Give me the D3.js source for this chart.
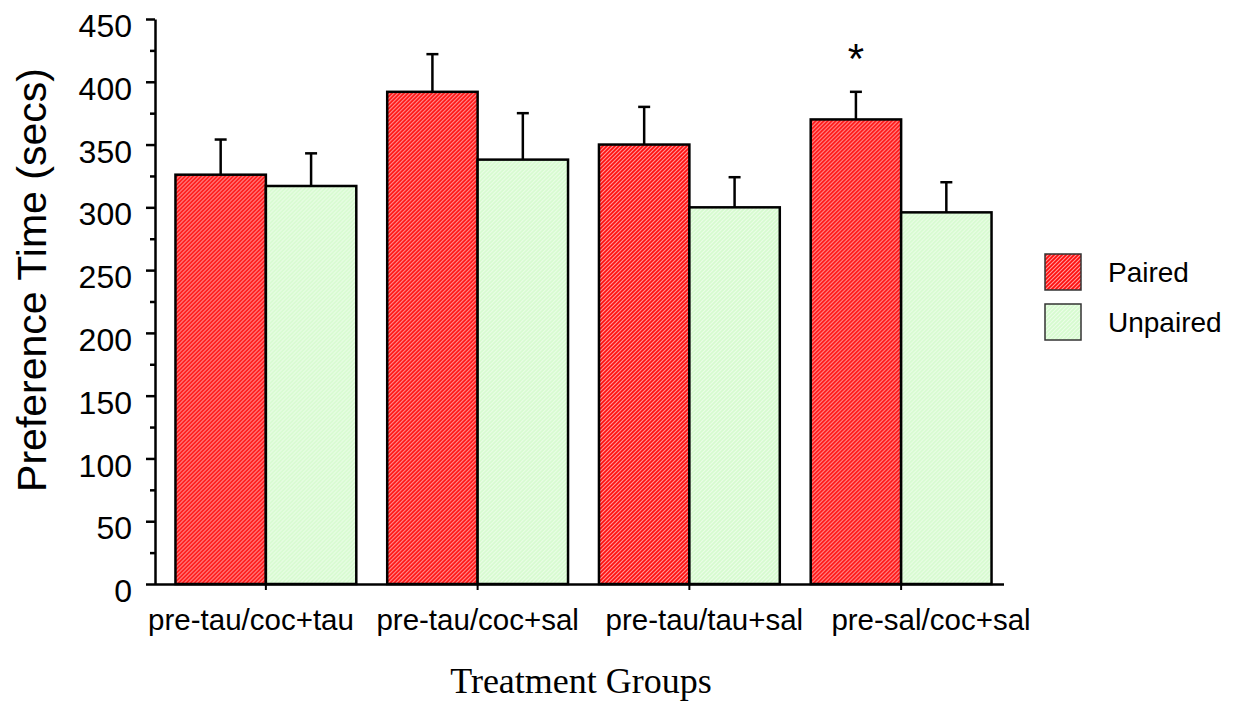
<!DOCTYPE html>
<html>
<head>
<meta charset="utf-8">
<script src="https://cdn.jsdelivr.net/npm/d3@7"></script>
<style>
  body { margin: 0; background: #fff; }
  text { font-family: "Liberation Sans", Arial, sans-serif; fill: #000; }
</style>
</head>
<body>
<svg width="1236" height="702"></svg>
<script>
// data
const groups = ["pre-tau/coc+tau", "pre-tau/coc+sal", "pre-tau/tau+sal", "pre-sal/coc+sal"];
const series = ["Paired", "Unpaired"];
const paired = [326, 392, 350, 370];
const pairedErr = [28, 30, 30, 22];
const unpaired = [317, 338, 300, 296];
const unpairedErr = [26, 37, 24, 24];
const yTicks = [0, 50, 100, 150, 200, 250, 300, 350, 400, 450];
const starred = ["pre-sal/coc+sal"]; // paired bar marked *

const svg = d3.select("svg");
const axisX = 155, baseY = 584, topY = 19;

// patterns for the two fills
const defs = svg.append("defs");
const red = defs.append("pattern")
  .attr("id", "hatch-red")
  .attr("patternUnits", "userSpaceOnUse")
  .attr("width", 4).attr("height", 4);
red.append("rect").attr("width", 4).attr("height", 4).attr("fill", "#ff0d0d");
red.append("path")
  .attr("d", "M-1,1 l2,-2 M0,4 l4,-4 M3,5 l2,-2")
  .attr("stroke", "#ff9c9c").attr("stroke-width", 1.1);

const green = defs.append("pattern")
  .attr("id", "hatch-green")
  .attr("patternUnits", "userSpaceOnUse")
  .attr("width", 4).attr("height", 4);
green.append("rect").attr("width", 4).attr("height", 4).attr("fill", "#d6fbcf");
green.append("path")
  .attr("d", "M-1,1 l2,-2 M0,4 l4,-4 M3,5 l2,-2")
  .attr("stroke", "#ecfee8").attr("stroke-width", 1.2);

const fills = { Paired: "url(#hatch-red)", Unpaired: "url(#hatch-green)" };

// scales
const y = d3.scaleLinear().domain([0, 450]).range([baseY, topY]);
const x0 = d3.scaleBand().domain(groups).range([160, 1007])
  .paddingInner(0.146).paddingOuter(0.073);
const x1 = d3.scaleBand().domain(series).range([0, x0.bandwidth()]);
const labelX = d3.scalePoint().domain(groups).range([251, 931]);

const rows = groups.map((g, i) => ({
  group: g,
  values: [
    { key: "Paired", v: paired[i], e: pairedErr[i] },
    { key: "Unpaired", v: unpaired[i], e: unpairedErr[i] }
  ]
}));

// bars with error bars
const gGroup = svg.append("g").selectAll("g")
  .data(rows).join("g")
  .attr("transform", d => `translate(${x0(d.group)},0)`);

const bar = gGroup.selectAll("g")
  .data(d => d.values.map(v => Object.assign({ group: d.group }, v)))
  .join("g");

bar.append("line")
  .attr("x1", d => x1(d.key) + x1.bandwidth() / 2)
  .attr("x2", d => x1(d.key) + x1.bandwidth() / 2)
  .attr("y1", d => y(d.v))
  .attr("y2", d => y(d.v + d.e))
  .attr("stroke", "#000").attr("stroke-width", 2.5);
bar.append("line")
  .attr("x1", d => x1(d.key) + x1.bandwidth() / 2 - 6)
  .attr("x2", d => x1(d.key) + x1.bandwidth() / 2 + 6)
  .attr("y1", d => y(d.v + d.e))
  .attr("y2", d => y(d.v + d.e))
  .attr("stroke", "#000").attr("stroke-width", 2.5);

bar.append("rect")
  .attr("x", d => x1(d.key))
  .attr("y", d => y(d.v))
  .attr("width", x1.bandwidth())
  .attr("height", d => y(0) - y(d.v))
  .attr("fill", d => fills[d.key])
  .attr("stroke", "#000").attr("stroke-width", 2.5);

// significance star
bar.filter(d => d.key == "Paired" && starred.includes(d.group))
  .append("text")
  .attr("x", d => x1(d.key) + x1.bandwidth() / 2)
  .attr("y", d => y(d.v + d.e) - 19)
  .attr("text-anchor", "middle")
  .style("font-size", "42px")
  .text("*");

// y axis with minor ticks
const minor = d3.range(25, 450, 50);
svg.append("g")
  .attr("transform", `translate(${axisX},0)`)
  .call(d3.axisLeft(y).tickValues(minor).tickSize(5).tickFormat(""))
  .call(g => g.select(".domain").remove())
  .selectAll("line").attr("stroke-width", 2.5);

const yAxis = svg.append("g")
  .attr("transform", `translate(${axisX},0)`)
  .call(d3.axisLeft(y).tickValues(yTicks).tickSize(9).tickSizeOuter(0).tickPadding(14));
yAxis.select(".domain").attr("stroke-width", 2.5);
yAxis.selectAll("line").attr("stroke-width", 2.5);
yAxis.selectAll("text")
  .attr("dy", "0.55em")
  .style("font-size", "32px")
  .style("font-family", "'Liberation Sans', Arial, sans-serif");

// x axis
const xAxis = svg.append("g")
  .attr("transform", `translate(0,${baseY})`)
  .call(d3.axisBottom(x0).tickSize(6).tickSizeOuter(0).tickFormat(""));
xAxis.select(".domain")
  .attr("d", `M${axisX},0.5H${x0.range()[1] - 3}`)
  .attr("stroke-width", 2.5);
xAxis.selectAll("line").attr("stroke-width", 2);

svg.append("g").selectAll("text")
  .data(groups).join("text")
  .attr("x", d => labelX(d))
  .attr("y", 630)
  .attr("text-anchor", "middle")
  .style("font-size", "29.5px")
  .text(d => d);

// axis titles
svg.append("text")
  .attr("transform", "translate(46,280) rotate(-90)")
  .attr("text-anchor", "middle")
  .style("font-size", "41px")
  .text("Preference Time (secs)");

svg.append("text")
  .attr("x", 581).attr("y", 693)
  .attr("text-anchor", "middle")
  .style("font-family", "'Liberation Serif', 'Times New Roman', serif")
  .style("font-size", "36px")
  .text("Treatment Groups");

// legend
const legend = svg.append("g").selectAll("g")
  .data(series).join("g")
  .attr("transform", (d, i) => `translate(1045,${254 + i * 50})`);
legend.append("rect")
  .attr("width", 36).attr("height", 36)
  .attr("fill", d => fills[d])
  .attr("stroke", "#333").attr("stroke-width", 1.5);
legend.append("text")
  .attr("x", 63).attr("y", 28)
  .style("font-size", "28px")
  .text(d => d);
</script>
</body>
</html>
